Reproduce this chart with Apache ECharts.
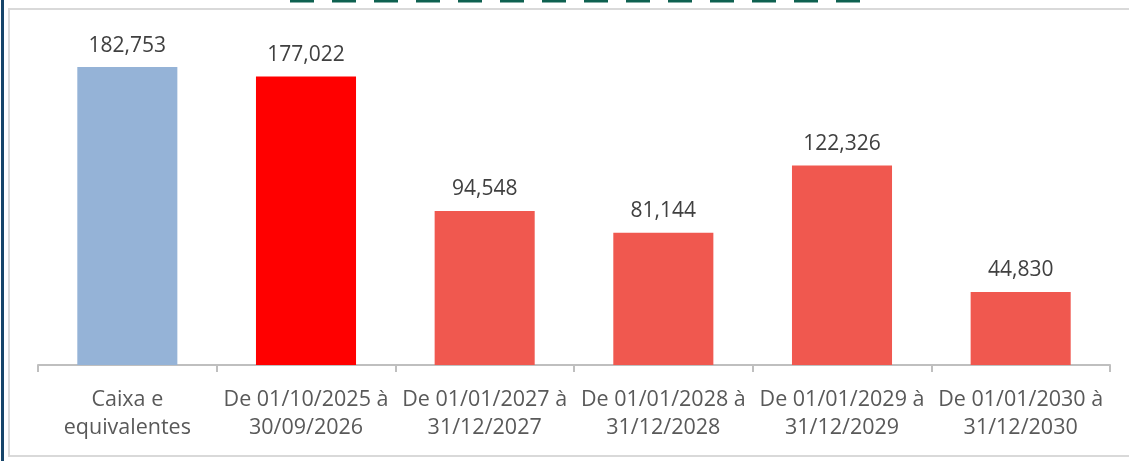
<!DOCTYPE html>
<html>
<head>
<meta charset="utf-8">
<script src="https://cdn.jsdelivr.net/npm/echarts@6/dist/echarts.min.js"></script>
<style>
html,body{margin:0;padding:0;background:#fff;}
#c{width:1129px;height:461px;}
</style>
</head>
<body>
<div id="c"></div>
<script>
const categories = [
  'Caixa e\nequivalentes',
  'De 01/10/2025 à\n30/09/2026',
  'De 01/01/2027 à\n31/12/2027',
  'De 01/01/2028 à\n31/12/2028',
  'De 01/01/2029 à\n31/12/2029',
  'De 01/01/2030 à\n31/12/2030'
];
const values = [182753, 177022, 94548, 81144, 122326, 44830];
const barColors = ['#95B3D7', '#FF0000', '#F0584F', '#F0584F', '#F0584F', '#F0584F'];

const chart = echarts.init(document.getElementById('c'));
const fontFam = '"Open Sans", "Liberation Sans", sans-serif';
chart.setOption({
  backgroundColor: '#ffffff',
  animation: false,
  grid: {left: 38, right: 19, top: 39, bottom: 96},
  xAxis: {
    type: 'category',
    data: categories,
    axisLine: {lineStyle: {color: '#BFBFBF', width: 2}},
    axisTick: {show: true, length: 7, lineStyle: {color: '#BFBFBF', width: 2}},
    axisLabel: {
      interval: 0, margin: 21, color: '#595959', fontSize: 21.5,
      lineHeight: 28, fontFamily: fontFam
    }
  },
  yAxis: {
    type: 'value', min: 0, max: 200000, show: false,
    splitLine: {show: false}
  },
  series: [{
    type: 'bar',
    barWidth: '56%',
    data: values.map((v, i) => ({value: v, itemStyle: {color: barColors[i]}})),
    label: {
      show: true, position: 'top', distance: 11,
      color: '#404040', fontSize: 21, fontFamily: fontFam,
      formatter: p => p.value.toLocaleString('en-US')
    }
  }],
  graphic: [
    {type: 'rect', shape: {x: 9, y: 9, width: 1130, height: 447},
     style: {fill: 'none', stroke: '#D9D9D9', lineWidth: 2}, z: -1},
    {type: 'rect', shape: {x: 1, y: 0, width: 3, height: 461},
     style: {fill: '#17456A'}},
    {type: 'line', shape: {x1: 290, y1: 1, x2: 860, y2: 1},
     style: {stroke: '#0E6150', lineWidth: 3, lineDash: [24, 18]}}
  ]
});
</script>
</body>
</html>
